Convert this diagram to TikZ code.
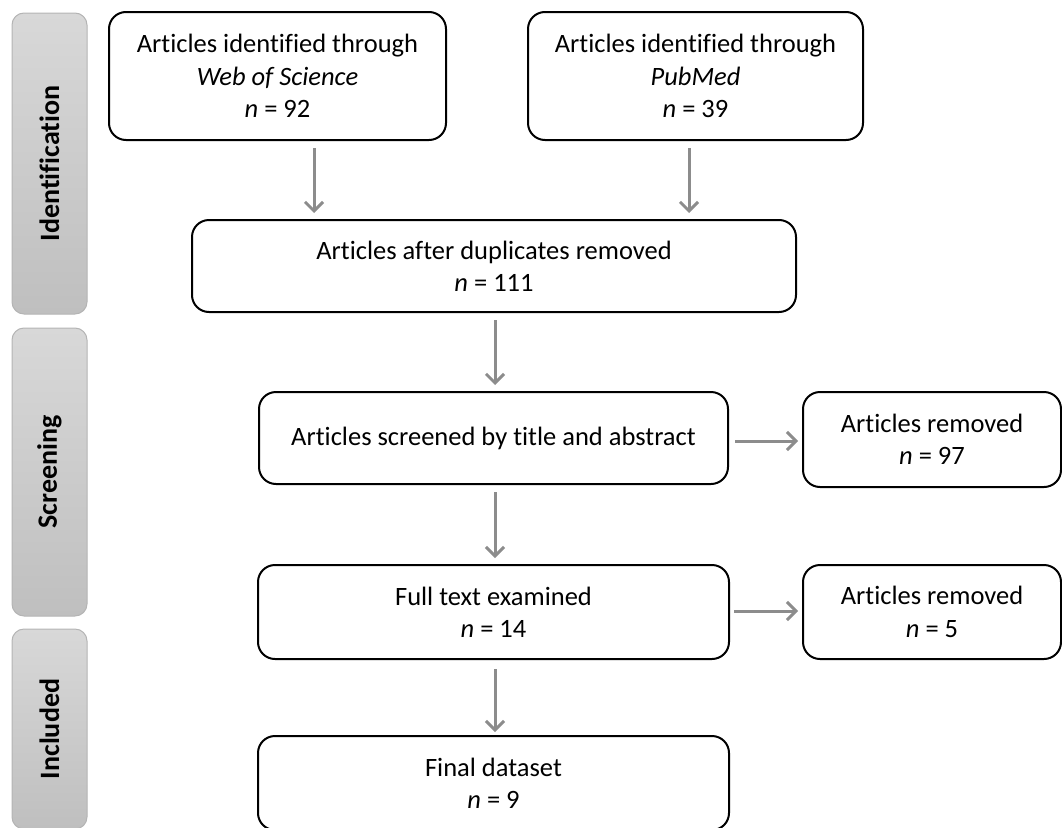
\documentclass[tikz,border=0pt]{standalone}
\usepackage{fontspec}
\setmainfont{Carlito}[Ligatures={NoCommon}]
\usetikzlibrary{arrows.meta}
\definecolor{arrgray}{HTML}{8C8C8C}
\definecolor{bartop}{HTML}{D8D8D8}
\definecolor{barbot}{HTML}{BFBFBF}
\definecolor{barline}{HTML}{B4B4B4}
\begin{document}
\begin{tikzpicture}[x=1pt,y=-1pt,
  box/.style={draw=black, line width=2pt, rounded corners=17pt, align=center,
    inner sep=0pt, outer sep=0pt, font=\fontsize{26.5}{32.3}\selectfont},
  bar/.style={draw=barline, line width=1pt, rounded corners=12pt,
    top color=bartop, bottom color=barbot, inner sep=0pt, outer sep=0pt},
  barlabel/.style={rotate=90, font=\fontsize{28}{32}\selectfont\bfseries},
  arr/.style={draw=arrgray, line width=3pt,
    -{Straight Barb[length=9pt,width=18pt]}, shorten <=8pt, shorten >=7pt}]
\useasboundingbox (0,0) rectangle (1062,827);
\clip (0,0) rectangle (1062,827);

% stage bars
\node[bar, minimum width=75pt, minimum height=301pt] (idbar) at (49.5,163.5) {};
\node[barlabel] (idlab) at (idbar.center) {Identification};
\node[bar, minimum width=75pt, minimum height=288pt] (scbar) at (49.5,472) {};
\node[barlabel] (sclab) at (scbar.center) {Screening};
\node[bar, minimum width=75pt, minimum height=200pt] (inbar) at (49.5,729) {};
\node[barlabel] (inlab) at (inbar.center) {Included};

% boxes
\node[box, minimum width=337pt, minimum height=128pt] (wos) at (277.5,76)
  {Articles identified through\\\textit{Web of Science}\\\textit{n} = 92};
\node[box, minimum width=335pt, minimum height=128pt] (pub) at (695.5,76)
  {Articles identified through\\\textit{PubMed}\\\textit{n} = 39};
\node[box, minimum width=604pt, minimum height=92pt] (dup) at (494,266)
  {Articles after duplicates removed\\\textit{n} = 111};
\node[box, minimum width=469pt, minimum height=92pt] (scr) at (493.5,438)
  {Articles screened by title and abstract};
\node[box, minimum width=258pt, minimum height=95pt] (rem1) at (932,439.5)
  {Articles removed\\\textit{n} = 97};
\node[box, minimum width=471pt, minimum height=94pt] (full) at (493.5,612)
  {Full text examined\\\textit{n} = 14};
\node[box, minimum width=258pt, minimum height=94pt] (rem2) at (932,612)
  {Articles removed\\\textit{n} = 5};
\node[box, minimum width=471pt, minimum height=94pt] (final) at (493.5,783)
  {Final dataset\\\textit{n} = 9};

% connector guides
\coordinate (a1) at (314,0);
\coordinate (a2) at (689,0);
\coordinate (a3) at (495,0);
\coordinate (h1) at (0,441);
\coordinate (h2) at (0,611);

% connectors
\draw[arr] (wos.south -| a1) -- (dup.north -| a1);
\draw[arr] (pub.south -| a2) -- (dup.north -| a2);
\draw[arr] (dup.south -| a3) -- (scr.north -| a3);
\draw[arr] (scr.south -| a3) -- (full.north -| a3);
\draw[arr, shorten <=10pt, shorten >=4pt] (full.south -| a3) -- (final.north -| a3);
\draw[arr, shorten <=7pt, shorten >=5pt] (scr.east |- h1) -- (rem1.west |- h1);
\draw[arr, shorten <=5pt, shorten >=5pt] (full.east |- h2) -- (rem2.west |- h2);
\end{tikzpicture}
\end{document}
